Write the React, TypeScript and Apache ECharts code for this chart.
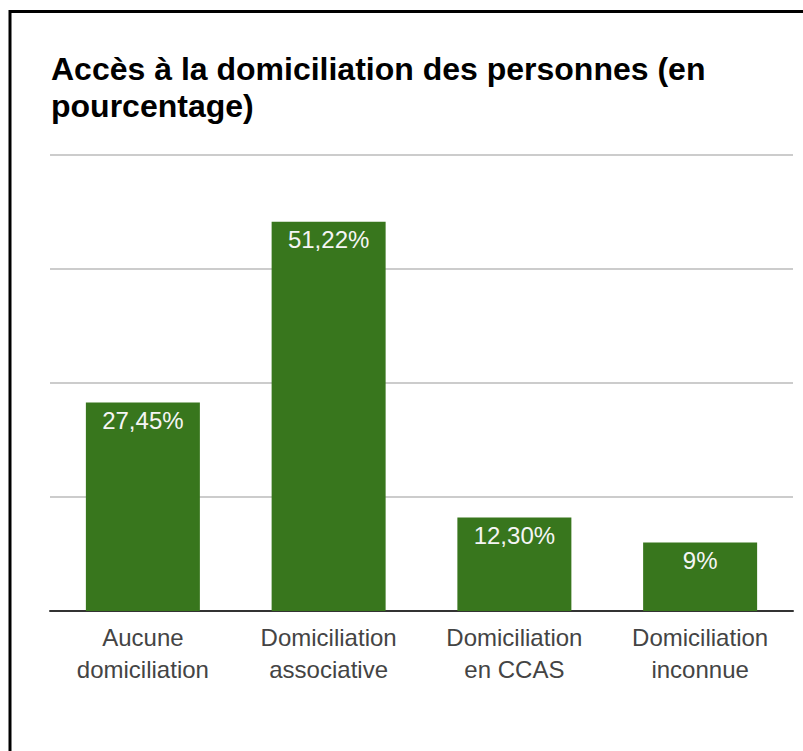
import React, { useEffect, useRef } from "react";
import * as echarts from "echarts";

const titleLines = ["Accès à la domiciliation des personnes (en", "pourcentage)"];
const categories = [
  "Aucune\ndomiciliation",
  "Domiciliation\nassociative",
  "Domiciliation\nen CCAS",
  "Domiciliation\ninconnue",
];
const values = [27.45, 51.22, 12.3, 9];
const yMin = 0;
const yMax = 60;
const yInterval = 15;

function fmt(v: number): string {
  return Number.isInteger(v) ? `${v}%` : `${v.toFixed(2).replace(".", ",")}%`;
}

export default function App() {
  const ref = useRef<HTMLDivElement>(null);
  useEffect(() => {
    if (!ref.current) return;
    const chart = echarts.init(ref.current, null, { renderer: "svg" });
    chart.setOption({
      animation: false,
      backgroundColor: "#ffffff",
      title: {
        text: titleLines.join("\n"),
        left: 46,
        top: 45,
        textStyle: {
          fontFamily: "Liberation Sans, Arial, sans-serif",
          fontWeight: "bold",
          fontSize: 32,
          lineHeight: 37,
          color: "#000000",
        },
      },
      graphic: [
        {
          type: "polyline",
          shape: { points: [[10, 760], [10, 11.5], [810, 11.5]] },
          style: { stroke: "#000000", lineWidth: 3, fill: "none" },
          silent: true,
        },
      ],
      grid: { left: 50, right: 10, top: 155, bottom: 140 },
      xAxis: {
        type: "category",
        data: categories,
        axisLine: { lineStyle: { color: "#333333", width: 2 } },
        axisTick: { show: false },
        axisLabel: {
          color: "#444444",
          fontFamily: "Liberation Sans, Arial, sans-serif",
          fontSize: 24,
          lineHeight: 32,
          margin: 10,
          interval: 0,
        },
      },
      yAxis: {
        type: "value",
        min: yMin,
        max: yMax,
        interval: yInterval,
        axisLabel: { show: false },
        axisLine: { show: false },
        axisTick: { show: false },
        splitLine: { lineStyle: { color: "#cccccc", width: 2 } },
      },
      series: [
        {
          type: "bar",
          data: values,
          barWidth: 114,
          itemStyle: { color: "#38761d" },
          label: {
            show: true,
            position: "insideTop",
            distance: 6,
            color: "#f5f5f5",
            fontFamily: "Liberation Sans, Arial, sans-serif",
            fontSize: 24,
            formatter: (p: any) => fmt(p.value),
          },
        },
      ],
    });
    return () => chart.dispose();
  }, []);
  return (
    <div
      ref={ref}
      style={{ position: "fixed", left: 0, top: 0, width: 803, height: 751 }}
    />
  );
}
